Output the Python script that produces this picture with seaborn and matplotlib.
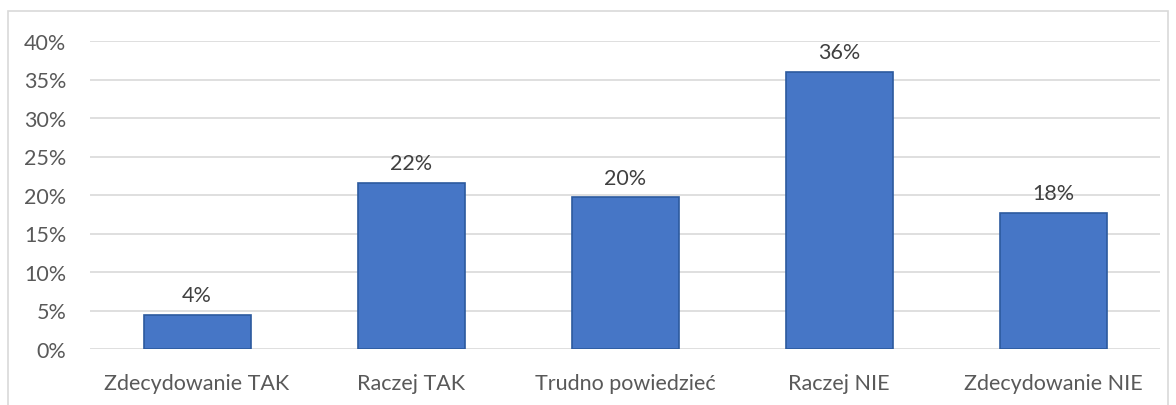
import matplotlib
matplotlib.use("Agg")
import matplotlib.pyplot as plt
import seaborn as sns
import pandas as pd
from matplotlib.patches import Rectangle
from matplotlib.ticker import PercentFormatter

categories = ["Zdecydowanie TAK", "Raczej TAK", "Trudno powiedzieć", "Raczej NIE", "Zdecydowanie NIE"]
values = [0.044, 0.216, 0.197, 0.360, 0.177]
labels = ["4%", "22%", "20%", "36%", "18%"]

df = pd.DataFrame({"odpowiedz": categories, "udzial": values})

sns.set_style("white")
plt.rcParams['font.family'] = ['Lato', 'DejaVu Sans']

fig = plt.figure(figsize=(11.76, 4.06), dpi=100)
ax = fig.add_axes([90 / 1176, 1 - 350 / 406, 1070 / 1176, 308 / 406])

# ramka wykresu
fig.patches.append(Rectangle((8 / 1176, -0.05), 1160 / 1176, 1 - 12 / 406 + 0.05,
                             transform=fig.transFigure, fill=False,
                             edgecolor="#d9d9d9", linewidth=1.2))

sns.barplot(data=df, x="odpowiedz", y="udzial", ax=ax, color="#4676c6",
            width=0.5, edgecolor="#2c5a9e", linewidth=1.2, saturation=1)

ax.set_ylim(0, 0.40)
ax.set_xlim(-0.5, 4.5)
ax.set_yticks([i * 0.05 for i in range(9)])
ax.yaxis.set_major_formatter(PercentFormatter(1.0, decimals=0))
ax.grid(axis="y", color="#d9d9d9", linewidth=1.2)
ax.set_axisbelow(True)
for s in ax.spines.values():
    s.set_visible(False)
ax.set_xlabel("")
ax.set_ylabel("")
ax.tick_params(axis="both", length=0, labelsize=15.5, colors="#595959")
ax.tick_params(axis="y", pad=17)
ax.tick_params(axis="x", pad=17)

for i, (v, t) in enumerate(zip(values, labels)):
    ax.annotate(t, (i, v), xytext=(0, 7), textcoords="offset points",
                ha="center", va="bottom", fontsize=15.5, color="#404040")

fig.savefig("out.png", dpi=100)
